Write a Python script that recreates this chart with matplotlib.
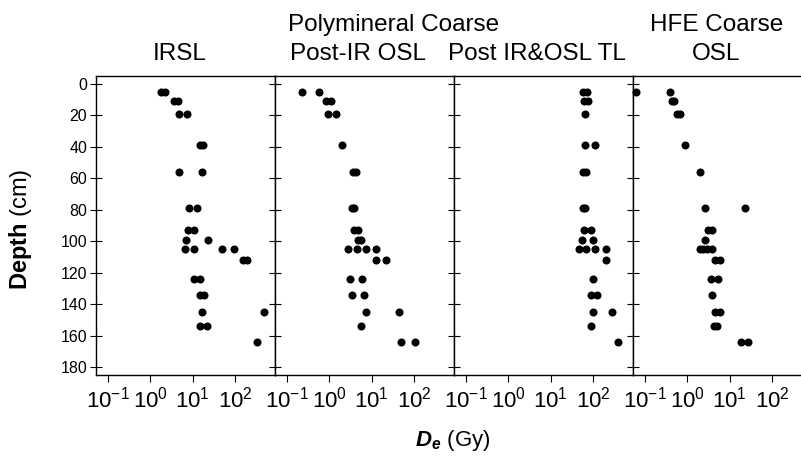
import matplotlib
matplotlib.use("Agg")
import matplotlib.pyplot as plt
from matplotlib import font_manager
from matplotlib.ticker import FixedLocator, NullLocator

def have(name):
    try:
        font_manager.findfont(name, fallback_to_default=False)
        return True
    except ValueError:
        return False

NARROW = 'Liberation Sans Narrow' if have('Liberation Sans Narrow') else 'Liberation Sans'
plt.rcParams['font.family'] = ['Liberation Sans', 'DejaVu Sans']
plt.rcParams['axes.unicode_minus'] = False
plt.rcParams['mathtext.fontset'] = 'custom'
plt.rcParams['mathtext.rm'] = NARROW
plt.rcParams['mathtext.it'] = NARROW + ':italic'
plt.rcParams['mathtext.bf'] = 'Liberation Sans:bold'
plt.rcParams['mathtext.bfit'] = 'Liberation Sans:italic:bold'

# --- data ---
irsl_depth = [5, 5, 11, 11, 19, 19, 39, 39, 56, 56, 79, 79, 93, 93, 99, 99,
              105, 105, 105, 105, 112, 112, 124, 124, 134, 134, 145, 145, 154, 154, 164]
irsl_de = [1.8, 2.25, 3.7, 4.6, 4.75, 7.2, 15.2, 17.2, 4.75, 16.7, 8.0, 12.9, 7.9, 10.5, 7.0, 23,
           6.45, 10.5, 50.5, 93.5, 156, 194, 10.5, 14.6, 15.2, 18.2, 16.9, 481, 14.6, 21.9, 335]

pirosl_depth = [5, 5, 11, 11, 19, 19, 39, 56, 56, 79, 79, 93, 93, 99, 99,
                105, 105, 105, 105, 112, 112, 124, 124, 134, 134, 145, 145, 154, 164, 164]
pirosl_de = [0.232, 0.578, 0.815, 1.07, 0.94, 1.43, 1.99, 3.7, 4.26, 3.37, 3.82, 3.82, 4.85, 4.9, 5.5,
             2.71, 4.43, 7.2, 12.7, 12.7, 21.5, 3.07, 5.9, 3.37, 6.7, 7.36, 45.5, 5.5, 48.9, 105]

tl_depth = [5, 5, 11, 11, 19, 39, 39, 56, 56, 79, 79, 93, 93, 99, 99,
            105, 105, 105, 105, 112, 124, 134, 134, 145, 145, 154, 164]
tl_de = [58.5, 74, 61.8, 78.5, 64, 64.5, 111, 58.5, 70.5, 57, 64.5, 61.8, 89, 54.5, 99,
         47, 67.8, 111, 202, 205, 99, 92.5, 128, 103, 285, 92.5, 395]

hfe_depth = [5, 5, 11, 11, 19, 19, 39, 56, 79, 79, 93, 93, 99,
             105, 105, 105, 105, 112, 112, 124, 124, 134, 145, 145, 154, 154, 164, 164]
hfe_de = [0.0624, 0.386, 0.43, 0.48, 0.566, 0.678, 0.90, 2.02, 2.69, 22.6, 3.07, 3.82, 2.69,
          2.0, 2.4, 2.9, 3.8, 4.4, 5.8, 3.54, 5.4, 3.88, 4.57, 5.8, 4.2, 5.0, 18.2, 27.7]

panels = [(irsl_depth, irsl_de), (pirosl_depth, pirosl_de), (tl_depth, tl_de), (hfe_depth, hfe_de)]
titles = ['IRSL', 'Post-IR OSL', 'Post IR&OSL TL', 'OSL']
xticks = [0.1, 1, 10, 100]
xticklabels = [r'$\mathregular{10^{-1}}$', r'$\mathregular{10^{0}}$',
               r'$\mathregular{10^{1}}$', r'$\mathregular{10^{2}}$']
yticks = list(range(0, 181, 20))

W, H = 801, 457
fig = plt.figure(figsize=(W / 100, H / 100), dpi=100)

x0, pw = 95.7, 179.0
lefts = [x0 + i * pw for i in range(4)]
top, bottom = 76, 375

for i, (d, de) in enumerate(panels):
    ax = fig.add_axes([lefts[i] / W, (H - bottom) / H, pw / W, (bottom - top) / H])
    ax.plot(de, d, 'o', color='black', ms=5.8, mew=0, clip_on=False, zorder=3)
    ax.set_xscale('log')
    ax.set_xlim(10 ** -1.29, 10 ** 2.94)
    ax.set_ylim(185, -5)
    ax.xaxis.set_major_locator(FixedLocator(xticks))
    ax.xaxis.set_minor_locator(NullLocator())
    ax.set_xticklabels(xticklabels)
    ax.set_yticks(yticks)
    ax.tick_params(axis='x', direction='out', length=5, width=0.8, labelsize=16, pad=3)
    ax.tick_params(axis='y', direction='inout', length=8, width=0.8, labelsize=11.5, pad=2)
    if i > 0:
        ax.set_yticklabels([])
    for s in ax.spines.values():
        s.set_linewidth(1.0)
    fig.text((lefts[i] + pw / 2 - 6) / W, (H - 60) / H, titles[i], ha='center', va='baseline',
             fontsize=17.5, family=NARROW)

fig.text((lefts[1] + 13) / W, (H - 31) / H, 'Polymineral Coarse', ha='left', va='baseline',
         fontsize=17.5, family=NARROW)
fig.text((lefts[3] + pw / 2 - 6) / W, (H - 31) / H, 'HFE Coarse', ha='center', va='baseline',
         fontsize=17.5, family=NARROW)

fig.text(21 / W, 228 / H, r'$\mathbf{Depth}$ (cm)', rotation=90, ha='center', va='center',
         fontsize=17)
fig.text(453 / W, 4 / H, r'$\mathbfit{D}_{\mathbfit{e}}$ (Gy)', ha='center', va='bottom',
         fontsize=16)

fig.savefig('out.png', dpi=100)
